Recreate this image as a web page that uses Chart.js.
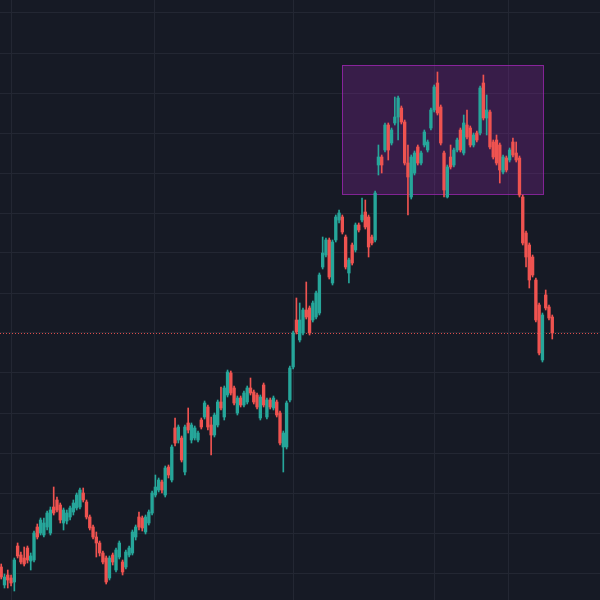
<!DOCTYPE html>
<html>
<head>
<meta charset="utf-8">
<script src="https://cdn.jsdelivr.net/npm/chart.js@4.4.1/dist/chart.umd.min.js"></script>
<style>
    html, body { margin: 0; padding: 0; background: #161a25; }
    #wrap { width: 600px; height: 600px; position: relative; }
</style>
</head>
<body>
<div id="wrap"><canvas id="chart"></canvas></div>
<script>

/* =========================
   CANDLE DATA (one entry per session)
========================= */

const opens = [
    33, 15, 25, 22, 18, 54, 45, 42, 52, 39, 40, 73, 67, 65, 73, 67, 93, 100, 95, 77,
    79, 83, 88, 92, 93, 107, 98, 83, 73, 63, 57, 47, 42, 22, 45, 30, 43, 38, 33, 45,
    47, 63, 83, 82, 68, 77, 87, 105, 110, 118, 105, 133, 120, 172, 160, 162, 128, 177, 160, 162,
    160, 180, 183, 193, 175, 165, 175, 198, 183, 205, 227, 212, 187, 202, 195, 198, 212, 208, 205, 182,
    215, 183, 200, 192, 198, 187, 153, 153, 200, 233, 280, 260, 267, 290, 292, 280, 283, 287, 333, 345,
    360, 317, 360, 380, 383, 363, 327, 355, 350, 375, 380, 388, 383, 363, 360, 435, 443, 450, 475, 457,
    477, 483, 492, 478, 437, 403, 427, 453, 437, 455, 450, 472, 490, 517, 493, 447, 403, 443, 435, 450,
    470, 447, 475, 472, 455, 467, 467, 517, 482, 488, 458, 460, 455, 428, 442, 440, 458, 447, 442, 403,
    367, 355, 343, 320, 295, 240, 305, 293, 283
];

const highs = [
    36, 26, 30, 25, 42, 57, 48, 53, 54, 47, 69, 76, 82, 82, 89, 93, 113, 103, 97, 92,
    90, 94, 100, 107, 112, 112, 100, 85, 75, 68, 59, 49, 44, 44, 47, 52, 59, 40, 50, 54,
    70, 75, 88, 84, 85, 90, 109, 125, 122, 120, 134, 135, 155, 182, 175, 164, 175, 192, 177, 174,
    169, 182, 199, 195, 183, 187, 200, 213, 214, 230, 229, 214, 204, 204, 209, 214, 222, 210, 207, 205,
    217, 202, 202, 204, 200, 189, 169, 199, 234, 269, 302, 297, 292, 318, 294, 299, 309, 327, 363, 362,
    362, 360, 385, 390, 385, 365, 342, 357, 377, 377, 402, 400, 385, 365, 409, 455, 445, 477, 477, 472,
    503, 504, 494, 480, 455, 445, 449, 455, 449, 470, 460, 492, 515, 528, 495, 449, 435, 455, 452, 462,
    472, 485, 490, 474, 467, 469, 514, 525, 505, 490, 460, 465, 457, 445, 444, 452, 462, 458, 444, 405,
    369, 357, 345, 322, 297, 287, 310, 295, 285
];

const lows = [
    21, 12, 12, 14, 9, 42, 36, 34, 37, 30, 38, 61, 65, 63, 70, 65, 85, 88, 77, 70,
    76, 80, 85, 90, 91, 98, 81, 70, 61, 43, 44, 36, 16, 20, 35, 28, 41, 25, 31, 43,
    45, 60, 70, 69, 66, 75, 85, 103, 108, 107, 103, 122, 118, 154, 157, 138, 125, 167, 157, 160,
    158, 171, 181, 170, 145, 163, 173, 190, 180, 203, 205, 195, 185, 193, 193, 196, 205, 196, 191, 180,
    193, 181, 191, 190, 183, 155, 128, 151, 198, 231, 266, 258, 265, 281, 265, 278, 281, 285, 331, 343,
    321, 315, 358, 377, 366, 331, 317, 335, 348, 368, 378, 371, 343, 355, 358, 425, 427, 448, 440, 455,
    475, 460, 476, 435, 385, 401, 425, 435, 435, 453, 448, 470, 488, 485, 455, 403, 402, 431, 433, 448,
    448, 445, 461, 453, 453, 458, 465, 480, 465, 451, 441, 435, 417, 426, 428, 438, 443, 438, 403, 355,
    333, 312, 323, 278, 245, 238, 290, 280, 261
];

const closes = [
    23, 23, 20, 17, 40, 44, 38, 36, 40, 44, 67, 63, 80, 77, 87, 90, 87, 90, 80, 90,
    87, 92, 97, 105, 110, 100, 83, 72, 63, 57, 47, 38, 18, 42, 38, 50, 57, 28, 48, 52,
    68, 73, 73, 72, 83, 88, 107, 113, 120, 110, 132, 125, 153, 157, 173, 140, 173, 170, 175, 172,
    167, 173, 197, 173, 165, 185, 198, 192, 212, 228, 207, 197, 202, 195, 207, 212, 207, 198, 193, 203,
    195, 200, 193, 202, 185, 157, 167, 197, 232, 267, 268, 280, 290, 283, 267, 297, 307, 325, 347, 360,
    323, 358, 383, 387, 368, 333, 340, 337, 375, 370, 385, 373, 353, 357, 407, 443, 435, 475, 450, 470,
    483, 502, 478, 437, 423, 443, 447, 437, 447, 468, 458, 490, 513, 487, 457, 410, 433, 433, 450, 460,
    450, 477, 463, 455, 465, 460, 512, 482, 490, 453, 443, 437, 430, 443, 430, 450, 445, 440, 405, 357,
    343, 320, 325, 280, 247, 285, 292, 282, 267
];

// vertical grid lines sit on session boundaries, horizontal ones every 40 price units
const xGridAt = [3, 46.6, 89, 132, 154.8];
const yGridAt = [27, 67, 107, 147, 187, 227, 267, 307, 347, 387, 427, 467, 507, 547, 587];

// highlighted range (sessions / price)
const boxFrom = 103.9;
const boxTo = 165.3;
const boxHigh = 535;
const boxLow = 406;

const UP = '#26a69a';
const DOWN = '#ef5350';
const GRID = '#232733';

/* =========================
   BUILD DATASETS
========================= */

const candleColors = opens.map((o, i) => closes[i] >= o ? UP : DOWN);

const bodies = opens.map((o, i) => ({ x: i, y: [o, closes[i]] }));
const wicks = opens.map((o, i) => ({ x: i, y: [lows[i], highs[i]] }));

/* =========================
   OVERLAYS
========================= */

const overlayPlugin = {

    id: 'overlays',

    beforeDatasetsDraw(chart) {

        const { ctx, chartArea, scales: { x, y } } = chart;

        // range box
        const left = x.getPixelForValue(boxFrom);
        const right = x.getPixelForValue(boxTo);
        const top = y.getPixelForValue(boxHigh);
        const bottom = y.getPixelForValue(boxLow);

        ctx.save();
        ctx.fillStyle = 'rgba(156,39,176,0.26)';
        ctx.fillRect(left, top, right - left, bottom - top);
        ctx.strokeStyle = 'rgba(156,39,176,0.8)';
        ctx.lineWidth = 1;
        ctx.strokeRect(Math.round(left) + 0.5, Math.round(top) + 0.5,
            Math.round(right - left), Math.round(bottom - top));

        // last price line
        const lastY = Math.round(y.getPixelForValue(closes[closes.length - 1])) + 0.5;
        ctx.strokeStyle = 'rgba(239,83,80,0.9)';
        ctx.setLineDash([1, 2]);
        ctx.beginPath();
        ctx.moveTo(chartArea.left, lastY);
        ctx.lineTo(chartArea.right, lastY);
        ctx.stroke();
        ctx.restore();
    }
};

/* =========================
   CHART
========================= */

const ctx = document.getElementById('chart').getContext('2d');

new Chart(ctx, {

    type: 'bar',

    data: {
        datasets: [
            {
                label: 'body',
                data: bodies,
                backgroundColor: candleColors,
                borderWidth: 0,
                grouped: false,
                categoryPercentage: 1,
                barPercentage: 1,
                maxBarThickness: 2.7
            },
            {
                label: 'wick',
                data: wicks,
                backgroundColor: candleColors,
                borderWidth: 0,
                grouped: false,
                categoryPercentage: 1,
                barPercentage: 1,
                maxBarThickness: 1
            }
        ]
    },

    options: {

        responsive: true,
        maintainAspectRatio: false,
        animation: false,
        events: [],

        layout: {
            padding: 0
        },

        plugins: {
            legend: { display: false },
            tooltip: { enabled: false }
        },

        scales: {

            x: {
                type: 'linear',
                min: -0.37,
                max: 182.55,
                offset: false,
                afterBuildTicks: scale => {
                    scale.ticks = xGridAt.map(v => ({ value: v }));
                },
                ticks: { display: false },
                border: { display: false },
                grid: {
                    color: GRID,
                    offset: false,
                    drawTicks: false
                }
            },

            y: {
                min: 0,
                max: 600,
                afterBuildTicks: scale => {
                    scale.ticks = yGridAt.map(v => ({ value: v }));
                },
                ticks: { display: false },
                border: { display: false },
                grid: {
                    color: GRID,
                    drawTicks: false
                }
            }
        }
    },

    plugins: [overlayPlugin]
});
</script>
</body>
</html>
